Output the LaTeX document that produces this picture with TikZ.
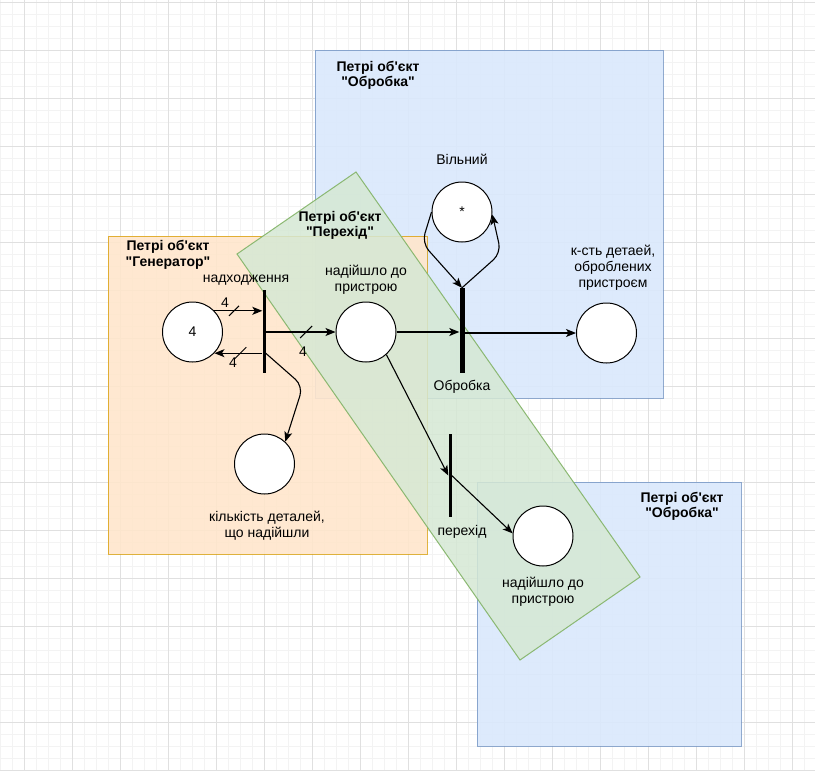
\documentclass[tikz,border=0pt]{standalone}
\usepackage{fontspec}
\setmainfont{Liberation Sans}[Ligatures=TeXOff]
\usetikzlibrary{arrows.meta}

\definecolor{blueFill}{HTML}{DAE8FC}
\definecolor{blueLine}{HTML}{6C8EBF}
\definecolor{orangeFill}{HTML}{FFE6CC}
\definecolor{orangeLine}{HTML}{D79B00}
\definecolor{greenFill}{HTML}{D5E8D4}
\definecolor{greenLine}{HTML}{82B366}
\definecolor{gridMajor}{HTML}{E0E0E0}
\definecolor{gridMinor}{HTML}{F3F3F3}

\tikzset{
  txt/.style={font=\fontsize{14}{16}\selectfont, align=center, inner sep=0pt},
  title/.style={txt, font=\fontsize{14}{15.5}\selectfont\bfseries},
  place/.style={circle, draw, fill=white, line width=1pt, minimum size=60pt,
                inner sep=0pt, font=\fontsize{14}{16}\selectfont},
  tbar/.style={fill=black, inner sep=0pt, minimum width=3pt, minimum height=83pt},
  arc/.style={draw, line width=1.1pt, -{Stealth[length=10pt,width=8pt,inset=2.5pt]}},
  tick/.style={line width=1pt},
  group/.style={line width=1pt, fill opacity=0.9, draw opacity=0.75},
}

\begin{document}
\begin{tikzpicture}[x=1pt,y=-1pt]
\useasboundingbox (0,0) rectangle (815,771);
\fill[white] (0,0) rectangle (815,771);

% background grid
\foreach \i in {0,12,...,815} \draw[gridMinor, line width=0.8pt] (\i,0) -- (\i,771);
\foreach \j in {2,14,...,771} \draw[gridMinor, line width=0.8pt] (0,\j) -- (815,\j);
\foreach \i in {24,72,...,815} \draw[gridMajor, line width=0.8pt] (\i,0) -- (\i,771);
\foreach \j in {2,50,...,771} \draw[gridMajor, line width=0.8pt] (0,\j) -- (815,\j);

% object frames
\filldraw[group, fill=blueFill, draw=blueLine] (315,50) rectangle (663,398);
\filldraw[group, fill=orangeFill, draw=orangeLine] (108,236) rectangle (427,554);
\filldraw[group, fill=blueFill, draw=blueLine] (477,482) rectangle (741,746);
\filldraw[line width=1pt, fill opacity=0.85, draw opacity=0.9, fill=greenFill, draw=greenLine]
  (356,172) -- (640,577) -- (520,660) -- (237,254) -- cycle;

% frame titles
\node[title] (tGen) at (168,255) {Петрі об'єкт\\"Генератор"};
\node[title] (tObr1) at (378,75.5) {Петрі об'єкт\\"Обробка"};
\node[title] (tPer) at (340,225.5) {Петрі об'єкт\\"Перехід"};
\node[title] (tObr2) at (682,506.5) {Петрі об'єкт\\"Обробка"};

% places
\node[place] (gen) at (192.5,332) {4};
\node[place] (p1) at (366,332) {};
\node[place] (fre) at (462,212) {*};
\node[place] (out) at (606.5,333) {};
\node[place] (cnt) at (264.5,464) {};
\node[place] (bot) at (543,536) {};

% transitions
\node[tbar] (t1) at (264,331.5) {};
\node[tbar, minimum width=5pt, minimum height=85pt] (t2) at (462,330.5) {};
\node[tbar] (t3) at (450,475.5) {};

% labels
\node[txt] (lT1) at (246,280) {надходження};
\node[txt] (lP1) at (366,280) {надійшло до\\пристрою};
\node[txt] (lFre) at (462,159) {Вільний};
\node[txt] (lOut) at (613,268) {к-сть детаей,\\оброблених\\пристроєм};
\node[txt] (lT2) at (462,387) {Обробка};
\node[txt] (lCnt) at (267,526) {кількість деталей,\\що надійшли};
\node[txt] (lT3) at (462,532) {перехід};
\node[txt] (lBot) at (543,591.5) {надійшло до\\пристрою};

% arcs of the generator
\draw[arc] (gen.44) -- coordinate[pos=0.41] (k1) (gen.44 -| t1.west);
\draw[arc] (gen.-44 -| t1.west) -- coordinate[pos=0.46] (k2) (gen.-44);
\draw[arc] (t1.east |- p1.west) -- coordinate[pos=0.58] (k3) (p1.west);
\draw[arc, rounded corners=10pt] (gen.-44 -| t1.east) -- (303,386) -- (cnt.47);

% multiplicity ticks and weights
\draw[tick] ([shift={(-5,5)}]k1) -- ([shift={(5,-5)}]k1);
\draw[tick] ([shift={(-6,6)}]k2) -- ([shift={(6,-6)}]k2);
\draw[tick] ([shift={(-6,6)}]k3) -- ([shift={(6,-6)}]k3);
\node[txt] (w1) at (225,303) {4};
\node[txt] (w2) at (233,363) {4};
\node[txt] (w3) at (303,352) {4};

% processing arcs
\draw[arc] (p1.east) -- (p1.east -| t2.west);
\draw[arc] (out.west -| t2.east) -- (out.west);
\draw[arc, rounded corners=10pt] (fre.west) -- (422,243) -- (t2.north);
\draw[arc, rounded corners=10pt] (t2.north) -- (501,253) -- (fre.-5);

% transfer arcs
\draw[arc] (p1.-48) -- (t3.west);
\draw[arc] (t3.east) -- (bot.175);
\end{tikzpicture}
\end{document}
